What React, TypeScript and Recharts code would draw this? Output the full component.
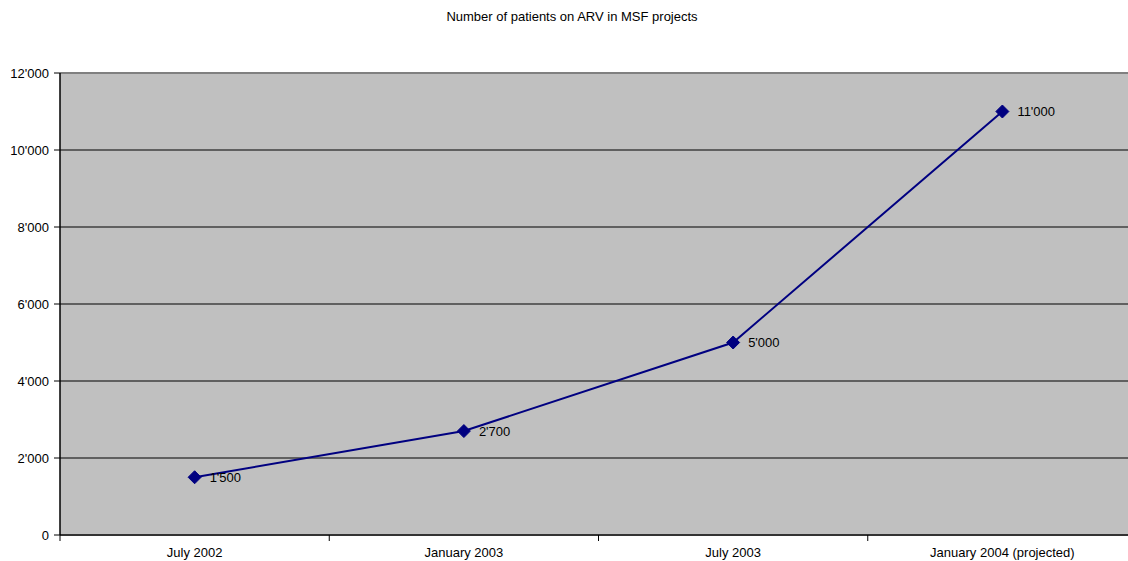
import { LineChart, Line, XAxis, YAxis, CartesianGrid, ReferenceLine, LabelList } from "recharts"

const categories = ["July 2002", "January 2003", "July 2003", "January 2004 (projected)"]
const patients = [1500, 2700, 5000, 11000]
const yTicks = [0, 2000, 4000, 6000, 8000, 10000, 12000]
const xBoundaries = [0, 1, 2, 3, 4]

const font = "'Liberation Sans', Arial, sans-serif"
const navy = "#000080"

// apostrophe as thousands separator, e.g. 11'000
const fmt = (v: number) => String(v).replace(/\B(?=(\d{3})+(?!\d))/g, "'")

const data = categories.map((label, i) => ({ label, pos: i + 0.5, value: patients[i] }))

const xTickValues = [...xBoundaries, ...categories.map((_, i) => i + 0.5)].sort((a, b) => a - b)

function XTick(props: any) {
  const { x, y, payload } = props
  const v = payload.value
  if (Number.isInteger(v)) {
    return <line x1={x} x2={x} y1={y} y2={y + 6} stroke="#000" strokeWidth={1} />
  }
  return (
    <text x={x} y={y + 22} textAnchor="middle" fontSize={13} fontFamily={font} fill="#000">
      {categories[Math.floor(v)]}
    </text>
  )
}

function Diamond(props: any) {
  const { cx, cy } = props
  if (cx == null || cy == null) return null
  const r = 6.5
  return (
    <polygon
      points={`${cx},${cy - r} ${cx + r},${cy} ${cx},${cy + r} ${cx - r},${cy}`}
      fill={navy}
      stroke={navy}
    />
  )
}

export default function App() {
  return (
    <div style={{ position: "fixed", top: 0, left: 0, width: 1128, height: 561, overflow: "hidden", background: "#fff" }}>
      <div
        style={{
          position: "absolute",
          top: 9,
          left: 0,
          width: 1144,
          textAlign: "center",
          fontFamily: font,
          fontSize: 13,
          color: "#000",
        }}
      >
        Number of patients on ARV in MSF projects
      </div>
      <LineChart width={1137} height={561} data={data} margin={{ top: 73, right: 0, bottom: 0, left: 0 }}>
        <CartesianGrid vertical={false} stroke="#000" fill="#c0c0c0" fillOpacity={1} />
        <ReferenceLine y={12000} stroke="#808080" strokeWidth={2} />
        <XAxis
          dataKey="pos"
          type="number"
          domain={[0, 4]}
          ticks={xTickValues}
          interval={0}
          tick={<XTick />}
          tickLine={false}
          tickSize={0}
          tickMargin={0}
          height={26}
          axisLine={{ stroke: "#333", strokeWidth: 2 }}
        />
        <YAxis
          domain={[0, 12000]}
          ticks={yTicks}
          interval={0}
          width={60}
          tickFormatter={fmt}
          tickSize={6}
          tickMargin={5}
          tick={{ fontSize: 13, fontFamily: font, fill: "#000" }}
          tickLine={{ stroke: "#000" }}
          axisLine={{ stroke: "#000", strokeWidth: 1.5 }}
        />
        <Line
          type="linear"
          dataKey="value"
          stroke={navy}
          strokeWidth={2}
          dot={<Diamond />}
          activeDot={false}
          isAnimationActive={false}
        >
          <LabelList
            dataKey="value"
            position="right"
            offset={15}
            formatter={(v: any) => fmt(Number(v))}
            style={{ fontSize: 13, fontFamily: font, fill: "#000" }}
          />
        </Line>
      </LineChart>
    </div>
  )
}
